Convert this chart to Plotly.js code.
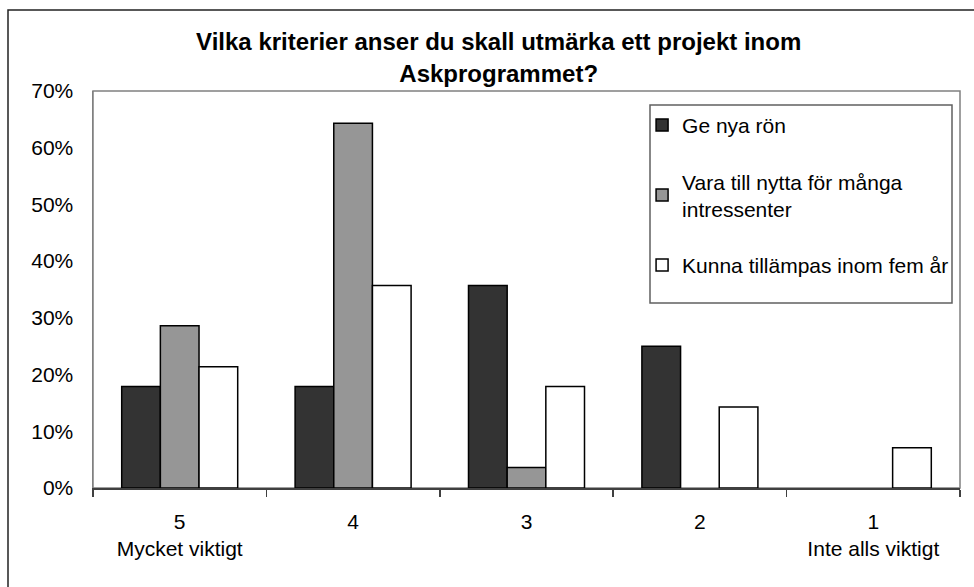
<!DOCTYPE html>
<html>
<head>
<meta charset="utf-8">
<script src="https://cdn.plot.ly/plotly-3.0.1.min.js"></script>
<style>html,body{margin:0;padding:0;background:#fff;} #chart{width:974px;height:587px;}</style>
</head>
<body>
<div id="chart"></div>
<script>
const categories = ["5<br>Mycket viktigt", "4", "3", "2", "1<br>Inte alls viktigt"];
const seriesNames = ["Ge nya rön", "Vara till nytta för många<br>intressenter", "Kunna tillämpas inom fem år"];
const geNyaRon = [0.179, 0.179, 0.357, 0.25, 0];
const varaTillNytta = [0.286, 0.643, 0.036, 0, 0];
const kunnaTillampas = [0.214, 0.357, 0.179, 0.143, 0.071];
const yTickVals = [0, 0.1, 0.2, 0.3, 0.4, 0.5, 0.6, 0.7];
const yTickText = ["0%", "10%", "20%", "30%", "40%", "50%", "60%", "70%"];

const colors = ["#333333", "#969696", "#ffffff"];
const seriesValues = [geNyaRon, varaTillNytta, kunnaTillampas];
const font = "Liberation Sans, Arial, sans-serif";

const traces = seriesValues.map((vals, i) => ({
  type: "bar",
  x: categories,
  y: vals,
  name: seriesNames[i],
  legendgroup: "g" + i,
  marker: {color: colors[i], line: {color: "#000000", width: vals.map(v => v === 0 ? 0 : 1.5)}},
  hoverinfo: "skip"
}));

const layout = {
  width: 974, height: 587,
  margin: {l: 93, r: 14, t: 91, b: 99},
  paper_bgcolor: "#ffffff",
  plot_bgcolor: "#ffffff",
  font: {family: font, size: 21, color: "#000000"},
  title: {
    text: "<b>Vilka kriterier anser du skall utmärka ett projekt inom<br>Askprogrammet?</b>",
    font: {family: font, size: 24, color: "#000000"},
    xref: "container", x: 0.512, xanchor: "center",
    yref: "container", y: 0.914, yanchor: "top"
  },
  barmode: "group",
  bargap: 0.331,
  bargroupgap: 0,
  showlegend: true,
  legend: {
    x: 0.6333, xanchor: "left",
    y: 0.965, yanchor: "top",
    bgcolor: "rgba(0,0,0,0)",
    borderwidth: 0,
    font: {family: font, size: 21, color: "#000000"},
    traceorder: "grouped",
    tracegroupgap: 26,
    itemwidth: 30
  },
  xaxis: {
    type: "category",
    showline: true, linecolor: "#404040", linewidth: 1.5,
    ticks: "outside", tickson: "boundaries", ticklen: 7, tickcolor: "#404040", tickwidth: 1.5,
    showgrid: false, zeroline: false,
    ticklabelstandoff: 14,
    tickfont: {family: font, size: 21, color: "#000000"},
    fixedrange: true
  },
  yaxis: {
    range: [0, 0.7],
    tickvals: yTickVals, ticktext: yTickText,
    showline: true, linecolor: "#808080", linewidth: 1.5,
    ticks: "", showgrid: false, zeroline: false,
    ticklabelstandoff: 14,
    tickfont: {family: font, size: 21, color: "#000000"},
    fixedrange: true
  },
  shapes: [
    {type: "rect", xref: "paper", yref: "paper", x0: 0, x1: 1, y0: 0, y1: 1,
     line: {color: "#808080", width: 1.5}, fillcolor: "rgba(0,0,0,0)", layer: "below"},
    {type: "rect", xref: "paper", yref: "paper",
     x0: (650 - 93) / 867, x1: (952 - 93) / 867, y0: (488 - 303) / 397, y1: (488 - 105) / 397,
     line: {color: "#606060", width: 1.5}, fillcolor: "#ffffff", layer: "above"},
    {type: "rect", xref: "paper", yref: "paper",
     x0: (8 - 93) / 867, x1: (990 - 93) / 867, y0: (488 - 600) / 397, y1: (488 - 10) / 397,
     line: {color: "#222222", width: 1.5}, fillcolor: "rgba(0,0,0,0)", layer: "below"}
  ]
};

Plotly.newPlot("chart", traces, layout, {staticPlot: true, displayModeBar: false});
</script>
</body>
</html>
